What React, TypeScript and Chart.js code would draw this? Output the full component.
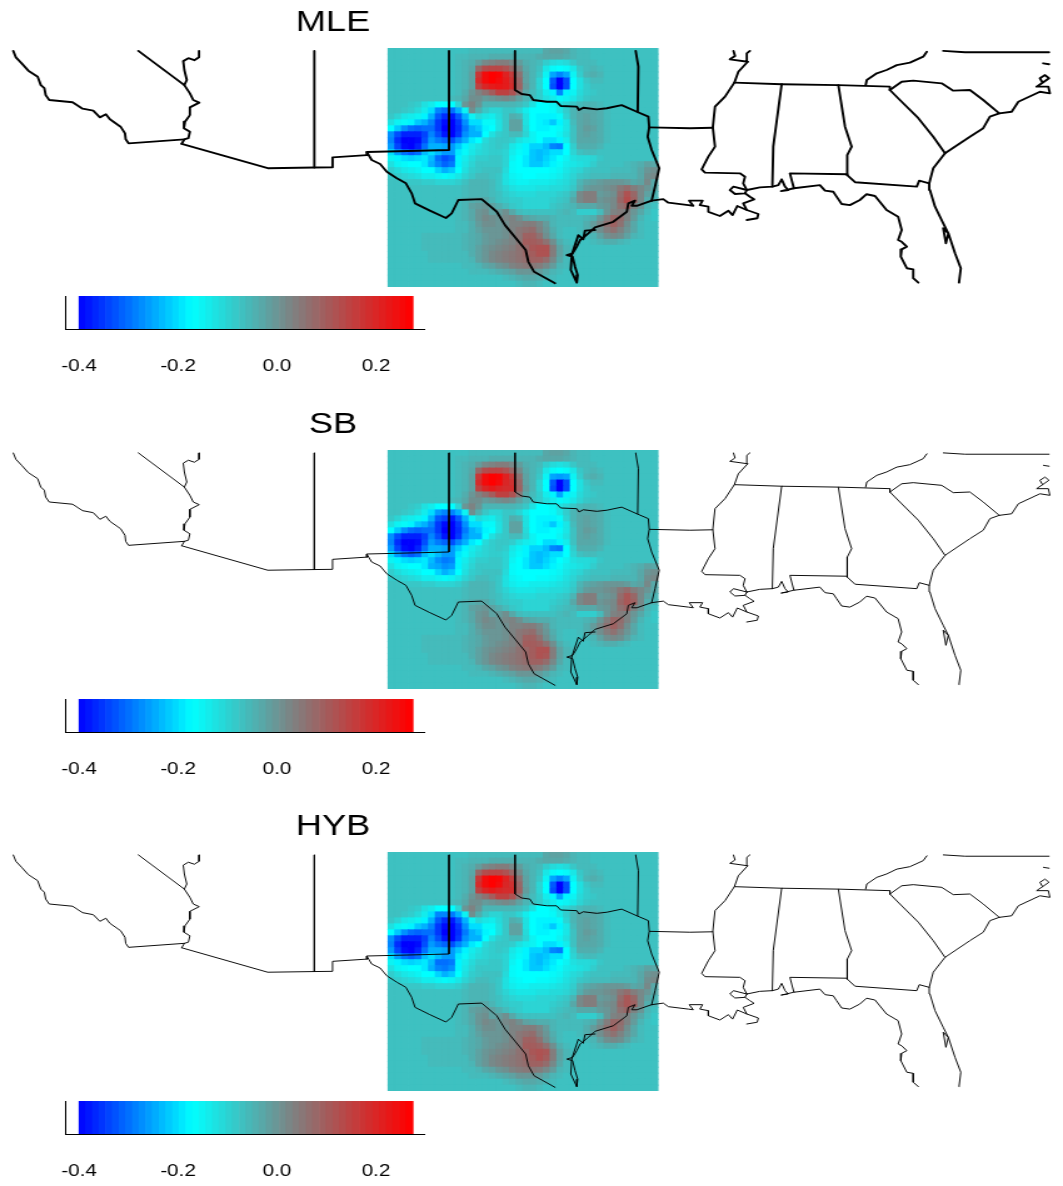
import React, { useEffect, useRef } from "react";
import { Chart, registerables } from "chart.js";

Chart.register(...registerables);

// ---------- panel titles and colour-bar ticks ----------
const panelTitles = ["MLE", "SB", "HYB"];
const colorbarBins = [
  -0.393, -0.38, -0.366, -0.353, -0.339, -0.326, -0.312, -0.299, -0.285, -0.272,
  -0.258, -0.245, -0.231, -0.218, -0.204, -0.191, -0.177, -0.164, -0.15, -0.137,
  -0.123, -0.11, -0.096, -0.083, -0.069, -0.056, -0.042, -0.029, -0.015, -0.002,
  0.012, 0.025, 0.039, 0.052, 0.066, 0.079, 0.093, 0.106, 0.12, 0.133,
  0.147, 0.16, 0.174, 0.187, 0.201, 0.214, 0.228, 0.241, 0.255, 0.268,
];

// ---------- field values (hundredths), 40 rows north to south, 40 columns west to east ----------
const mleRows = [
  [-7,-7,-7,-7,-7,-7,-7,-7,-7,-7, -7,-7,-6,-6,-6,-6,-6,-6,-6,-6, -6,-6,-6,-3,-2,-2,-3,-5,-6,-6, -7,-7,-7,-7,-7,-7,-7,-7,-7,-7],
  [-7,-7,-7,-7,-7,-7,-7,-7,-7,-7, -6,-6,-5,-5,-5,-4,-4,-4,-4,-5, -5,-5,-4,-3,-3,-3,-4,-5,-6,-6, -7,-7,-7,-7,-7,-7,-7,-7,-7,-7],
  [-7,-7,-7,-7,-7,-7,-7,-7,-7,-7, -6,-5,-4,-1,2,3,4,4,2,-1, -4,-5,-6,-9,-11,-12,-11,-8,-6,-6, -6,-7,-7,-7,-7,-7,-7,-7,-7,-7],
  [-7,-7,-7,-7,-7,-7,-7,-7,-7,-7, -6,-5,-3,8,13,14,14,12,8,2, -3,-5,-7,-13,-16,-17,-16,-13,-8,-6, -5,-6,-7,-7,-7,-7,-7,-7,-7,-7],
  [-7,-7,-7,-7,-7,-7,-7,-7,-7,-7, -6,-5,-2,17,25,27,26,21,16,6, -2,-5,-8,-15,-25,-28,-25,-15,-9,-5, -4,-5,-7,-7,-7,-7,-7,-7,-7,-7],
  [-7,-7,-7,-7,-7,-7,-7,-7,-7,-7, -6,-5,-2,19,25,27,25,22,18,8, -2,-5,-10,-17,-32,-40,-33,-17,-12,-8, -6,-6,-7,-7,-7,-7,-7,-7,-7,-7],
  [-7,-7,-7,-7,-7,-7,-7,-7,-7,-7, -6,-5,-2,15,20,22,23,22,19,9, -1,-5,-10,-17,-33,-40,-33,-17,-12,-9, -7,-7,-7,-7,-7,-7,-7,-7,-7,-7],
  [-7,-7,-7,-7,-7,-7,-7,-7,-7,-7, -6,-4,0,3,6,10,15,15,12,5, -3,-6,-9,-14,-18,-28,-18,-15,-11,-9, -8,-7,-7,-7,-7,-7,-7,-7,-7,-7],
  [-7,-7,-7,-7,-7,-7,-7,-7,-7,-6, -5,-3,1,1,-1,0,1,2,1,-2, -5,-7,-9,-12,-14,-16,-15,-13,-10,-8, -7,-7,-7,-7,-7,-7,-7,-7,-7,-7],
  [-7,-7,-7,-8,-9,-12,-14,-17,-17,-17, -10,0,3,0,-5,-5,-5,-5,-5,-6, -8,-12,-17,-17,-15,-12,-10,-8,-6,-5, -5,-6,-7,-7,-7,-7,-7,-7,-7,-7],
  [-7,-7,-8,-9,-11,-14,-20,-28,-30,-30, -24,-15,1,-4,-8,-10,-10,-8,-8,-10, -14,-17,-17,-17,-16,-13,-9,-5,-3,-3, -3,-4,-6,-7,-7,-7,-7,-7,-7,-7],
  [-8,-10,-13,-14,-15,-18,-24,-32,-36,-38, -32,-24,-15,-11,-13,-14,-11,-8,-4,-5, -12,-17,-18,-18,-18,-16,-10,-5,-3,-2, -3,-4,-6,-7,-7,-7,-7,-7,-7,-7],
  [-12,-15,-16,-18,-22,-24,-28,-35,-39,-40, -35,-27,-20,-20,-16,-16,-12,-8,-2,-2, -12,-17,-18,-19,-22,-18,-13,-6,-3,-2, -3,-4,-6,-7,-7,-7,-7,-7,-7,-7],
  [-17,-22,-27,-30,-31,-30,-30,-35,-40,-40, -36,-29,-24,-22,-18,-17,-12,-8,-2,-2, -11,-17,-18,-18,-17,-16,-13,-7,-3,-1, -2,-4,-6,-7,-7,-7,-7,-7,-7,-7],
  [-27,-33,-37,-37,-37,-34,-28,-33,-38,-40, -35,-27,-24,-24,-17,-12,-9,-8,-6,-6, -10,-15,-17,-17,-17,-15,-12,-7,-3,-2, -3,-4,-6,-7,-7,-7,-7,-7,-7,-7],
  [-28,-36,-40,-40,-39,-33,-26,-29,-31,-33, -28,-24,-19,-17,-11,-9,-8,-8,-9,-12, -14,-15,-17,-20,-20,-18,-14,-7,-3,-3, -3,-4,-6,-7,-7,-7,-7,-7,-7,-7],
  [-26,-34,-39,-40,-37,-30,-24,-24,-25,-26, -22,-18,-14,-12,-10,-9,-8,-9,-13,-15, -18,-21,-21,-23,-28,-29,-17,-9,-4,-4, -4,-5,-7,-7,-7,-7,-7,-7,-7,-7],
  [-20,-26,-30,-32,-30,-23,-20,-23,-26,-26, -19,-16,-13,-11,-10,-9,-9,-10,-14,-16, -18,-22,-23,-22,-20,-20,-17,-10,-7,-6, -6,-7,-7,-7,-7,-7,-7,-7,-7,-7],
  [-15,-18,-20,-21,-20,-19,-23,-30,-33,-31, -18,-14,-11,-9,-9,-8,-8,-10,-15,-17, -19,-22,-23,-21,-19,-17,-15,-12,-11,-11, -10,-8,-7,-7,-7,-7,-7,-7,-7,-7],
  [-12,-15,-16,-17,-17,-19,-24,-28,-31,-29, -18,-13,-10,-8,-8,-8,-8,-10,-16,-17, -19,-22,-22,-20,-18,-16,-14,-13,-12,-11, -9,-7,-7,-7,-7,-6,-5,-4,-2,-3],
  [-9,-11,-13,-14,-15,-17,-17,-21,-24,-22, -17,-12,-9,-8,-7,-7,-7,-11,-16,-17, -17,-17,-17,-17,-16,-15,-13,-11,-10,-8, -7,-7,-7,-6,-6,-6,-5,-3,0,1],
  [-8,-9,-10,-11,-12,-14,-14,-15,-16,-15, -13,-10,-8,-6,-6,-7,-8,-12,-15,-16, -17,-17,-16,-16,-15,-14,-12,-10,-8,-7, -6,-6,-6,-5,-5,-5,-5,-3,1,2],
  [-7,-7,-8,-8,-8,-9,-9,-10,-10,-10, -9,-7,-5,-5,-5,-6,-8,-12,-14,-15, -15,-14,-14,-14,-13,-12,-11,-9,-5,-3, -2,-1,0,0,0,-1,-3,-2,2,-3],
  [-7,-7,-7,-7,-7,-7,-7,-7,-7,-7, -7,-6,-5,-5,-5,-6,-8,-10,-12,-13, -13,-13,-12,-12,-11,-11,-10,-8,-4,-1, 0,0,1,2,5,7,4,2,0,-3],
  [-7,-7,-7,-7,-7,-7,-7,-7,-7,-7, -7,-6,-5,-5,-5,-6,-7,-9,-10,-11, -11,-11,-10,-10,-10,-9,-8,-5,2,4, 4,-1,0,1,7,12,8,2,-2,-5],
  [-7,-7,-7,-7,-7,-7,-7,-7,-7,-7, -6,-5,-4,-3,-3,-5,-7,-8,-9,-9, -10,-10,-10,-10,-9,-8,-7,-3,2,4, 4,0,1,2,8,13,9,2,-4,-5],
  [-7,-7,-7,-7,-7,-7,-7,-7,-7,-7, -6,-5,-2,-1,0,-2,-4,-6,-8,-9, -10,-10,-10,-10,-8,-7,-6,-5,-3,-3, -3,-1,0,2,6,8,3,0,-5,-7],
  [-7,-7,-7,-7,-7,-7,-7,-7,-7,-7, -6,-5,-3,0,1,-2,-1,1,-3,-6, -7,-7,-7,-7,-7,-6,-5,-6,-9,-9, -9,-6,0,3,4,3,0,-3,-6,-8],
  [-7,-7,-7,-7,-7,-7,-7,-7,-7,-7, -6,-5,-3,0,2,1,0,2,3,1, -2,-3,-4,-4,-5,-6,-6,-6,-6,-5, -4,0,4,8,7,3,-1,-5,-7,-8],
  [-7,-7,-7,-7,-7,-7,-7,-7,-7,-7, -6,-6,-4,-1,1,1,0,1,3,3, 4,4,2,-1,-5,-6,-6,-6,-6,-4, -1,2,6,9,6,1,-3,-6,-7,-7],
  [-7,-7,-7,-7,-7,-7,-7,-7,-7,-7, -6,-6,-4,-2,0,0,0,1,3,5, 6,7,3,0,-4,-6,-7,-7,-6,-4, -2,1,4,6,3,0,-3,-6,-7,-7],
  [-7,-7,-7,-7,-7,-6,-6,-6,-6,-6, -6,-5,-4,-3,-1,0,0,1,3,5, 9,9,6,1,-3,-6,-7,-7,-7,-6, -5,-2,1,2,1,-2,-5,-6,-7,-7],
  [-7,-7,-7,-7,-7,-6,-6,-6,-6,-6, -6,-5,-4,-3,-1,0,1,2,3,5, 10,10,9,6,1,-4,-6,-7,-7,-7, -6,-5,-4,-4,-5,-6,-7,-7,-7,-7],
  [-7,-7,-7,-7,-7,-6,-6,-6,-6,-6, -6,-5,-4,-2,0,1,2,3,4,6, 8,11,12,12,4,-2,-5,-6,-7,-7, -7,-7,-7,-7,-7,-7,-7,-7,-7,-7],
  [-7,-7,-7,-7,-7,-7,-6,-6,-6,-6, -6,-6,-4,-2,0,2,3,4,5,6, 8,10,12,12,4,-2,-5,-6,-7,-7, -7,-7,-7,-7,-7,-7,-7,-7,-7,-7],
  [-7,-7,-7,-7,-7,-7,-6,-6,-6,-6, -6,-6,-5,-2,0,2,3,4,5,6, 7,9,9,7,2,-3,-6,-7,-7,-7, -7,-7,-7,-7,-7,-7,-7,-7,-7,-7],
  [-7,-7,-7,-7,-7,-7,-7,-7,-7,-7, -7,-6,-6,-5,-3,-2,0,1,3,4, 5,5,4,2,-1,-5,-6,-7,-7,-7, -7,-7,-7,-7,-7,-7,-7,-7,-7,-7],
  [-7,-7,-7,-7,-7,-7,-7,-7,-7,-7, -7,-7,-6,-6,-6,-5,-4,-3,-2,0, 0,0,-1,-3,-5,-6,-7,-7,-7,-7, -7,-7,-7,-7,-7,-7,-7,-7,-7,-7],
  [-7,-7,-7,-7,-7,-7,-7,-7,-7,-7, -7,-7,-7,-7,-7,-7,-7,-6,-5,-4, -3,-3,-4,-5,-6,-7,-7,-7,-7,-7, -7,-7,-7,-7,-7,-7,-7,-7,-7,-7],
  [-7,-7,-7,-7,-7,-7,-7,-7,-7,-7, -7,-7,-7,-7,-7,-7,-7,-7,-7,-6, -5,-5,-6,-7,-7,-7,-7,-7,-7,-7, -7,-7,-7,-7,-7,-7,-7,-7,-7,-7],
];

// cells where the SB and HYB panels read differently from MLE: [row, column, value]
const sbChanges = [
  [4,25,-26],[5,17,20],[6,16,20],[6,17,19],[7,25,-25],[10,7,-26],[10,8,-28],[10,9,-28],
  [11,8,-34],[18,7,-27],[18,8,-29],[18,9,-28],[19,7,-25],[19,8,-27],[19,9,-26],
  [24,35,11],[25,35,11],[33,21,10],[34,23,11],
];
const hybChanges = [
  [5,17,20],[6,16,20],[6,17,19],[7,25,-25],[10,8,-28],[10,9,-29],
  [18,8,-30],[18,9,-29],[19,8,-29],[19,9,-27],
  [24,35,11],[25,35,11],[33,23,11],[34,23,10],
];

// ---------- boundaries, [longitude, latitude] ----------
const pacificCoast = [[-122.61,36.4],[-122.49,36.11],[-122.23,35.84],[-121.93,35.51],[-121.51,35.24],[-121.37,34.86],[-121.21,34.72],[-121.15,34.41],[-120.99,34.19],[-119.94,34.09],[-119.49,33.8],[-119.01,33.71],[-118.71,33.41],[-118.44,33.55],[-118.26,33.32],[-117.78,32.99],[-117.58,32.69],[-117.55,32.42],[-117.42,32.24],[-114.91,32.42]];
const californiaNevada = [[-116.98,36.4],[-114.91,34.86]];
const coloradoRiver = [[-114.25,36.4],[-114.25,36.11],[-114.46,35.98],[-114.73,36.07],[-114.96,35.94],[-114.91,35.54],[-114.8,35.09],[-114.91,34.86],[-114.66,34.49],[-114.51,34.19],[-114.24,34.07],[-114.66,33.86],[-114.66,33.51],[-114.88,33.21],[-114.93,32.92],[-114.66,32.76],[-114.73,32.47],[-114.91,32.42],[-115.03,32.22]];
const mexicoWest = [[-115.03,32.22],[-111.16,31.12],[-109.06,31.15],[-108.24,31.16],[-108.24,31.61],[-106.7,31.71]];
const arizonaNewMexico = [[-109.06,36.4],[-109.06,31.15]];
const newMexicoTexas = [[-103,36.4],[-103,31.94],[-106.7,31.85],[-106.7,31.71]];
const rioGrande = [[-106.7,31.85],[-106.48,31.49],[-106.1,31.31],[-105.8,30.96],[-105.35,30.67],[-104.94,30.44],[-104.68,29.99],[-104.53,29.54],[-103.86,29.21],[-103.14,28.88],[-102.88,29.09],[-102.58,29.69],[-101.53,29.73],[-100.85,29.16],[-100.48,28.56],[-99.55,27.44],[-99.43,26.91],[-99.17,26.46],[-98.23,25.94]];
const redRiverSabine = [[-100.03,36.4],[-100.03,34.64],[-99.73,34.46],[-99.36,34.41],[-99.21,34.19],[-98.6,34.11],[-98.16,34.11],[-97.97,33.92],[-97.25,33.89],[-97.15,33.74],[-96.96,33.84],[-96.35,33.77],[-95.9,33.82],[-95.23,33.96],[-94.55,33.66],[-94.03,33.44],[-93.99,32.96],[-94.06,32.54],[-93.88,31.94],[-93.54,31.12],[-93.73,30.29],[-93.88,29.66]];
const arkansasOklahoma = [[-94.6,36.4],[-94.48,35.69],[-94.51,33.66]];
const louisianaArkansas = [[-93.99,32.96],[-92.15,32.92],[-91.13,32.94]];
const texasCoast = [[-93.88,29.66],[-94.55,29.43],[-94.78,29.43],[-94.63,29.66],[-94.93,29.54],[-95,29.16],[-95.61,28.71],[-96.43,28.46],[-96.73,28.19],[-97.1,27.89],[-97.25,27.59],[-97.44,27.29],[-97.7,27.21],[-97.44,27.14],[-97.33,26.69],[-97.21,26.31],[-97.25,25.97],[-97.52,26.54],[-97.48,27.21]];
const texasBarrier = [[-97.48,27.21],[-97.18,28.11],[-96.96,27.92],[-96.88,28.31],[-96.43,28.34]];
const louisianaCoast = [[-93.88,29.66],[-93.36,29.73],[-93.13,29.57],[-92.23,29.46],[-92.01,29.43],[-92.19,29.66],[-91.59,29.66],[-91.71,29.46],[-91.33,29.39],[-91.33,29.16],[-90.81,28.97],[-90.43,29.21],[-90.24,29.01],[-90.03,29.42],[-89.6,29.24],[-89.08,29.06],[-89.13,28.87],[-89.6,28.79]];
const lakePontchartrain = [[-89.6,30.14],[-90.2,30.29],[-90.36,30.14],[-90.13,29.96],[-89.68,29.99],[-89.6,30.14]];
const missDelta = [[-89.68,29.99],[-89.46,29.84],[-89.27,29.72],[-89.76,29.54],[-89.6,29.24]];
const mississippiRiver = [[-89.56,35.91],[-89.98,35.46],[-90.16,34.97],[-90.58,34.34],[-91.03,33.89],[-91.13,32.96],[-91.03,32.09],[-91.33,31.64],[-91.63,31.07],[-91.48,30.92],[-89.91,30.89],[-89.68,30.74],[-89.76,30.44],[-89.6,30.14]];
const missouriBootheel = [[-90.2,36.4],[-90.13,36.17],[-90.36,36.02],[-89.56,35.91],[-89.6,36.29],[-89.46,36.4]];
const tennesseeSouth = [[-90.16,34.97],[-88.03,34.9],[-85.48,34.86],[-83.16,34.79],[-83.16,34.64]];
const tennesseeEast = [[-81.5,36.36],[-81.66,36.14],[-82.26,35.87],[-82.85,35.76],[-83.31,35.54],[-83.75,35.39],[-84.2,35.09],[-84.25,34.86]];
const carolinasLine = [[-83.16,34.64],[-82.63,35.01],[-82.11,35.06],[-80.83,34.94],[-80.31,34.61],[-79.56,34.64],[-78.96,34.19],[-78.24,33.59]];
const mississippiAlabama = [[-88.03,34.9],[-88.41,32.09],[-88.45,30.29]];
const alabamaGeorgia = [[-85.48,34.86],[-85.18,32.99],[-84.88,32.09],[-85.08,31.71],[-85.08,30.81]];
const alabamaFlorida = [[-87.48,30.22],[-87.66,30.89],[-85.08,30.85]];
const georgiaFlorida = [[-85.08,30.81],[-84.73,30.49],[-81.95,30.29],[-81.84,30.56],[-81.39,30.44]];
const savannahRiver = [[-83.16,34.64],[-82.71,34.19],[-81.88,33.37],[-81.21,32.54],[-80.68,31.79]];
const atlanticCoast = [[-80.05,25.97],[-79.97,26.62],[-80.23,27.29],[-80.53,28.19],[-80.64,27.74],[-80.76,28.42],[-80.53,28.19],[-80.76,28.64],[-81.13,29.39],[-81.36,30.14],[-81.39,30.44],[-81.21,31.12],[-80.68,31.79],[-79.56,32.54],[-78.96,32.92],[-78.66,33.44],[-78.24,33.59],[-77.68,33.66],[-77.38,34.11],[-76.41,34.56],[-75.96,34.49],[-76.03,34.79],[-76.56,34.79],[-76.29,34.97],[-76.41,35.17],[-76.18,35.31],[-76,35.17],[-76.29,34.97]];
const outerBanks = [[-76.26,35.84],[-76,35.8]];
const virginiaLine = [[-80.76,36.4],[-79.78,36.34],[-76,36.34]];
const gulfCoastEast = [[-89.6,30.14],[-89.01,30.26],[-88.45,30.29],[-88.18,30.36],[-88.03,30.62],[-87.88,30.29],[-87.73,30.14],[-88.06,30.09],[-87.48,30.22],[-86.31,30.36],[-86.08,30.11],[-85.71,30.06],[-85.56,29.84],[-85.33,29.51],[-84.96,29.46],[-84.51,29.69],[-84.21,29.95],[-83.83,29.87],[-83.31,29.24],[-82.79,28.94],[-82.63,28.34],[-82.79,27.89],[-82.63,27.81],[-82.4,27.59],[-82.63,27.47],[-82.67,27.14],[-82.4,26.62],[-82.11,26.57],[-82.11,26.17],[-81.88,25.97]];

const boundaries = [
  pacificCoast, californiaNevada, coloradoRiver, mexicoWest, arizonaNewMexico, newMexicoTexas, rioGrande,
  redRiverSabine, arkansasOklahoma, louisianaArkansas, texasCoast, texasBarrier, louisianaCoast, lakePontchartrain,
  missDelta, mississippiRiver, missouriBootheel, tennesseeSouth, tennesseeEast, carolinasLine, mississippiAlabama,
  alabamaGeorgia, alabamaFlorida, georgiaFlorida, savannahRiver, atlanticCoast, outerBanks, virginiaLine, gulfCoastEast,
];

// ---------- layout ----------
const PAGE_W = 1063;
const LOGICAL_W = 850;
const STRETCH = PAGE_W / LOGICAL_W;
const PANEL_STEP = 402.2;
const BAR_STEP = 402.6;
const FONT = "'Liberation Sans', Arial, sans-serif";
const LON_PER_PX = 0.045;
const LON_LEFT = -123.205;
const LAT_TOP_OF_FIELD = 36.53;
const LAT_BOTTOM_OF_FIELD = 25.775;
const FIELD_WEST = -105.745;
const FIELD_EAST = -93.595;

const colorStops = [
  [-0.4, 0, 0, 255],
  [-0.17, 0, 255, 255],
  [0.035, 128, 128, 128],
  [0.27, 255, 0, 0],
];
function colorFor(v: number) {
  let i = 0;
  while (i < colorStops.length - 2 && v > colorStops[i + 1][0]) i++;
  const a = colorStops[i];
  const b = colorStops[i + 1];
  const t = Math.max(0, Math.min(1, (v - a[0]) / (b[0] - a[0])));
  const c = [1, 2, 3].map((k) => Math.round(a[k] + (b[k] - a[k]) * t));
  return `rgb(${c[0]},${c[1]},${c[2]})`;
}

function fieldCells(changes: number[][]) {
  const rows = mleRows.map((r) => r.slice());
  changes.forEach(([r, c, v]) => {
    rows[r][c] = v;
  });
  const dLon = (FIELD_EAST - FIELD_WEST) / 40;
  const dLat = (LAT_TOP_OF_FIELD - LAT_BOTTOM_OF_FIELD) / 40;
  const data: any[] = [];
  const colors: string[] = [];
  rows.forEach((row, r) => {
    row.forEach((v, c) => {
      const north = LAT_TOP_OF_FIELD - r * dLat;
      data.push({ x: FIELD_WEST + (c + 0.5) * dLon, y: [north - dLat - 0.01, north] });
      colors.push(colorFor(v / 100));
    });
  });
  return { data, colors };
}

const movedTitle = {
  id: "movedTitle",
  afterLayout(chart: any) {
    if (chart.titleBlock) chart.titleBlock.right = (2 * 333) / STRETCH;
  },
};

function mapChart(canvas: HTMLCanvasElement, title: string, changes: number[][], lineWidth: number) {
  const cells = fieldCells(changes);
  const lineSets = boundaries.map((b) => ({
    type: "line",
    data: b.map(([x, y]) => ({ x, y })),
    borderColor: "#000",
    borderWidth: lineWidth,
    borderJoinStyle: "round",
    borderCapStyle: "round",
    pointRadius: 0,
    tension: 0,
    fill: false,
    order: 0,
  }));
  return new Chart(canvas, {
    type: "bar",
    data: {
      datasets: [
        {
          type: "bar",
          data: cells.data,
          backgroundColor: cells.colors,
          barThickness: 5.5,
          grouped: false,
          borderWidth: 0,
          order: 1,
        },
        ...lineSets,
      ] as any,
    },
    options: {
      responsive: false,
      animation: false,
      events: [],
      layout: { padding: { top: 0, bottom: 3, left: 0, right: 0 } },
      plugins: {
        legend: { display: false },
        tooltip: { enabled: false },
        title: {
          display: true,
          text: title,
          color: "#000",
          font: { family: FONT, size: 29, weight: "normal", lineHeight: 1 },
          padding: { top: 8, bottom: 11 },
        },
      },
      scales: {
        x: { type: "linear", offset: false, display: false, min: LON_LEFT, max: LON_LEFT + PAGE_W * LON_PER_PX },
        y: { type: "linear", display: false, min: LAT_BOTTOM_OF_FIELD, max: LAT_TOP_OF_FIELD },
      },
    } as any,
    plugins: [movedTitle],
  });
}

function colorbarChart(canvas: HTMLCanvasElement) {
  const h = 95;
  return new Chart(canvas, {
    type: "bar",
    data: {
      datasets: [
        {
          data: colorbarBins.map((x) => ({ x, y: [0, 1] })),
          backgroundColor: colorbarBins.map(colorFor),
          barThickness: 5.5,
          grouped: false,
          borderWidth: 0,
        },
      ] as any,
    },
    options: {
      responsive: false,
      animation: false,
      events: [],
      layout: { padding: { top: 6, bottom: 0, left: 66 / STRETCH, right: (PAGE_W - 425) / STRETCH } },
      plugins: { legend: { display: false }, tooltip: { enabled: false }, title: { display: false } },
      scales: {
        x: {
          type: "linear",
          offset: false,
          min: -0.4263,
          max: 0.299,
          afterFit(axis: any) {
            axis.height = h - 39;
          },
          grid: { display: false, drawTicks: false },
          border: { display: true, color: "#000", width: 1 },
          ticks: {
            stepSize: 0.2,
            includeBounds: false,
            autoSkip: false,
            maxRotation: 0,
            padding: 28,
            color: "#000",
            font: { family: FONT, size: 16.5 },
            callback: (v: any) => Number(v).toFixed(1),
          },
        },
        y: {
          type: "linear",
          min: 0,
          max: 1,
          afterFit(axis: any) {
            axis.width = 0;
          },
          grid: { display: false, drawTicks: false },
          border: { display: true, color: "#000", width: 1 },
          ticks: { display: false },
        },
      },
    } as any,
  });
}

const panelChanges = [[], sbChanges, hybChanges];
const panelLineWidths = [1.9, 0.95, 0.95];

export default function App() {
  const mapRefs = useRef<(HTMLCanvasElement | null)[]>([]);
  const barRefs = useRef<(HTMLCanvasElement | null)[]>([]);

  useEffect(() => {
    const charts: Chart[] = [];
    panelTitles.forEach((t, i) => {
      charts.push(mapChart(mapRefs.current[i]!, t, panelChanges[i], panelLineWidths[i]));
      charts.push(colorbarChart(barRefs.current[i]!));
    });
    return () => charts.forEach((c) => c.destroy());
  }, []);

  const place = (top: number): React.CSSProperties => ({
    position: "absolute",
    left: 0,
    top,
    transform: `scaleX(${STRETCH})`,
    transformOrigin: "0 0",
  });

  return (
    <div style={{ position: "absolute", left: 0, top: 0, width: PAGE_W, height: 1186, overflow: "hidden", background: "#fff" }}>
      {panelTitles.map((t, i) => (
        <React.Fragment key={t}>
          <div style={place(i * PANEL_STEP)}>
            <canvas ref={(el) => { mapRefs.current[i] = el; }} width={LOGICAL_W} height={290} />
          </div>
          <div style={place(290 + i * BAR_STEP)}>
            <canvas ref={(el) => { barRefs.current[i] = el; }} width={LOGICAL_W} height={95} />
          </div>
        </React.Fragment>
      ))}
    </div>
  );
}
